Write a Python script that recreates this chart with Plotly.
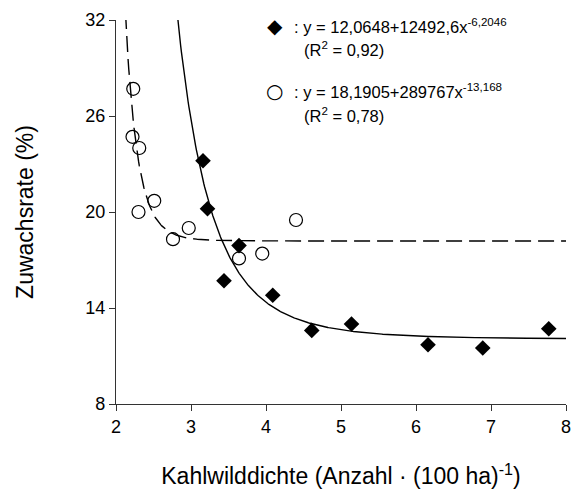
import numpy as np
import plotly.graph_objects as go

# Data
diamond_x = [3.16, 3.22, 3.64, 3.44, 4.09, 4.61, 5.14, 6.16, 6.89, 7.77]
diamond_y = [23.2, 20.2, 17.9, 15.7, 14.8, 12.6, 13.0, 11.7, 11.5, 12.7]
circle_x = [2.23, 2.22, 2.31, 2.30, 2.51, 2.76, 2.97, 3.64, 3.95, 4.40]
circle_y = [27.7, 24.7, 24.0, 20.0, 20.7, 18.3, 19.0, 17.1, 17.4, 19.5]

# Fitted regression coefficients printed on the chart: y = a + b * x^c
fit_diamond = (12.0648, 12492.6, -6.2046)
fit_circle = (18.1905, 289767.0, -13.168)

x_ticks = [2, 3, 4, 5, 6, 7, 8]
y_ticks = [8, 14, 20, 26, 32]

legend_eq = [": y = 12,0648+12492,6x<sup>-6,2046</sup>",
             ": y = 18,1905+289767x<sup>-13,168</sup>"]
legend_r2 = ["(R<sup>2</sup> = 0,92)", "(R<sup>2</sup> = 0,78)"]
legend_symbols = ["◆", "○"]

FONT = "Liberation Sans, Arial, sans-serif"

xs = np.linspace(2.0, 8.0, 600)
def fit(p, x):
    a, b, c = p
    return a + b * np.power(x, c)

fig = go.Figure()
fig.add_trace(go.Scatter(x=xs, y=fit(fit_diamond, xs), mode="lines",
                         line=dict(color="black", width=1.4), showlegend=False,
                         hoverinfo="skip"))
fig.add_trace(go.Scatter(x=xs, y=fit(fit_circle, xs), mode="lines",
                         line=dict(color="black", width=1.4, dash="16px,7px"),
                         showlegend=False, hoverinfo="skip"))
fig.add_trace(go.Scatter(x=diamond_x, y=diamond_y, mode="markers",
                         marker=dict(symbol="diamond", size=12, color="black"),
                         showlegend=False))
fig.add_trace(go.Scatter(x=circle_x, y=circle_y, mode="markers",
                         marker=dict(symbol="circle-open", size=13, color="black",
                                     line=dict(width=1.2, color="black")),
                         showlegend=False))

# legend block drawn as annotations (paper coordinates)
eq_pos = [(0.391, 0.984), (0.391, 0.815)]
r2_pos = [(0.413, 0.924), (0.413, 0.753)]
sym_pos = [(0.353, 0.984), (0.353, 0.815)]
for (tx, ty), txt in zip(eq_pos + r2_pos, legend_eq + legend_r2):
    fig.add_annotation(xref="paper", yref="paper", x=tx, y=ty, text=txt,
                       showarrow=False, xanchor="left", yanchor="middle",
                       align="left", font=dict(family=FONT, size=16.5, color="black"))
for (sx, sy), s in zip(sym_pos, legend_symbols):
    fig.add_annotation(xref="paper", yref="paper", x=sx, y=sy, text=s,
                       showarrow=False, xanchor="center", yanchor="middle",
                       font=dict(family="DejaVu Sans", size=20, color="black"))

fig.update_layout(
    width=573, height=491,
    margin=dict(l=116, r=7, t=20, b=87),
    paper_bgcolor="white", plot_bgcolor="white",
    font=dict(family=FONT, size=18, color="black"),
    showlegend=False,
    xaxis=dict(range=[2, 8], tickvals=x_ticks, ticks="outside", ticklen=6,
               tickwidth=1.2, tickcolor="#333", showline=True, linecolor="#333",
               linewidth=1.2, showgrid=False, zeroline=False, automargin=False,
               tickfont=dict(size=18),
               title=dict(text="Kahlwilddichte (Anzahl · (100 ha)<sup>-1</sup>)",
                          font=dict(size=23), standoff=32)),
    yaxis=dict(range=[8, 32], tickvals=y_ticks, ticks="outside", ticklen=6,
               tickwidth=1.2, tickcolor="#333", showline=True, linecolor="#333",
               linewidth=1.2, showgrid=False, zeroline=False, automargin=False,
               tickfont=dict(size=18),
               title=dict(text="Zuwachsrate (%)", font=dict(size=23), standoff=45)),
)

fig.write_html("out.html", config={"displayModeBar": False},
               post_script="document.body.style.margin='0px';"
                           "document.body.style.overflow='hidden';")
